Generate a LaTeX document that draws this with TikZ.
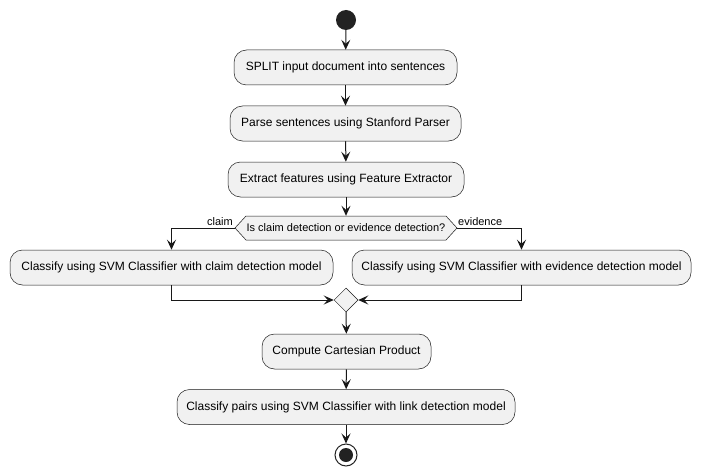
\documentclass[tikz,border=0pt]{standalone}
\usepackage{fontspec}
\setmainfont{Liberation Sans}
\usetikzlibrary{arrows.meta,shapes.geometric}
\definecolor{boxfill}{HTML}{F1F1F1}
\definecolor{ink}{HTML}{181818}
\definecolor{dot}{HTML}{222222}
\tikzset{
  actbox/.style={draw=ink, line width=0.5pt, fill=boxfill, rounded corners=12.5pt,
    inner sep=0pt, minimum height=35pt, font=\fontsize{12}{14}\selectfont},
  flow/.style={draw=ink, line width=1pt, -{Stealth[length=10pt,width=9pt,inset=4pt]}},
  lbl/.style={font=\fontsize{11}{13}\selectfont, inner sep=0pt},
}
\begin{document}
\begin{tikzpicture}[x=1pt,y=-1pt]
\useasboundingbox (0,0) rectangle (701,476);
\node[circle, fill=dot, minimum size=20pt, inner sep=0pt] (start) at (346,20) {};
\node[actbox, minimum width=223pt] (b1) at (345.5,67.5) {SPLIT input document into sentences};
\node[actbox, minimum width=231pt] (b2) at (345.5,123.5) {Parse sentences using Stanford Parser};
\node[actbox, minimum width=236pt] (b3) at (346,179.5) {Extract features using Feature Extractor};
% decision
\coordinate (dc) at (346,228);
\draw[ink, line width=0.5pt, fill=boxfill] (235,228) -- (246,216) -- (446,216) -- (457,228) -- (446,240) -- (246,240) -- cycle;
\node[minimum width=222pt, minimum height=24pt, inner sep=0pt, font=\fontsize{11}{13}\selectfont] (dec) at (dc) {Is claim detection or evidence detection?};
\node[actbox, minimum width=323pt] (bl) at (171.5,267.5) {Classify using SVM Classifier with claim detection model};
\node[actbox, minimum width=339pt] (br) at (521.5,267.5) {Classify using SVM Classifier with evidence detection model};
\node[diamond, draw=ink, line width=0.5pt, fill=boxfill, minimum width=24pt, minimum height=24pt, inner sep=0pt] (merge) at (346,300) {};
\node[actbox, minimum width=169pt] (b4) at (346.5,351.5) {Compute Cartesian Product};
\node[actbox, minimum width=338pt] (b5) at (346,407) {Classify pairs using SVM Classifier with link detection model};
\node[circle, draw=dot, line width=1pt, fill=white, minimum size=22pt, inner sep=0pt] (stop) at (346,455) {};
\node[circle, fill=dot, minimum size=14pt, inner sep=0pt] (stopin) at (stop) {};
% labels
\node[lbl, anchor=base east] (lclaim) at (233,225) {claim};
\node[lbl, anchor=base west] (levid) at (458,225) {evidence};
% connectors
\draw[flow] (start) -- (b1);
\draw[flow] (b1) -- (b2);
\draw[flow] (b2) -- (b3);
\draw[flow] (b3) -- (dec.north);
\draw[flow] (dec.west) -| (bl.north);
\draw[flow] (dec.east) -| (br.north);
\draw[flow] (bl.south) |- (merge.west);
\draw[flow] (br.south) |- (merge.east);
\draw[flow] (merge) -- (b4);
\draw[flow] (b4) -- (b5);
\draw[flow] (b5) -- (stop);
\end{tikzpicture}
\end{document}
